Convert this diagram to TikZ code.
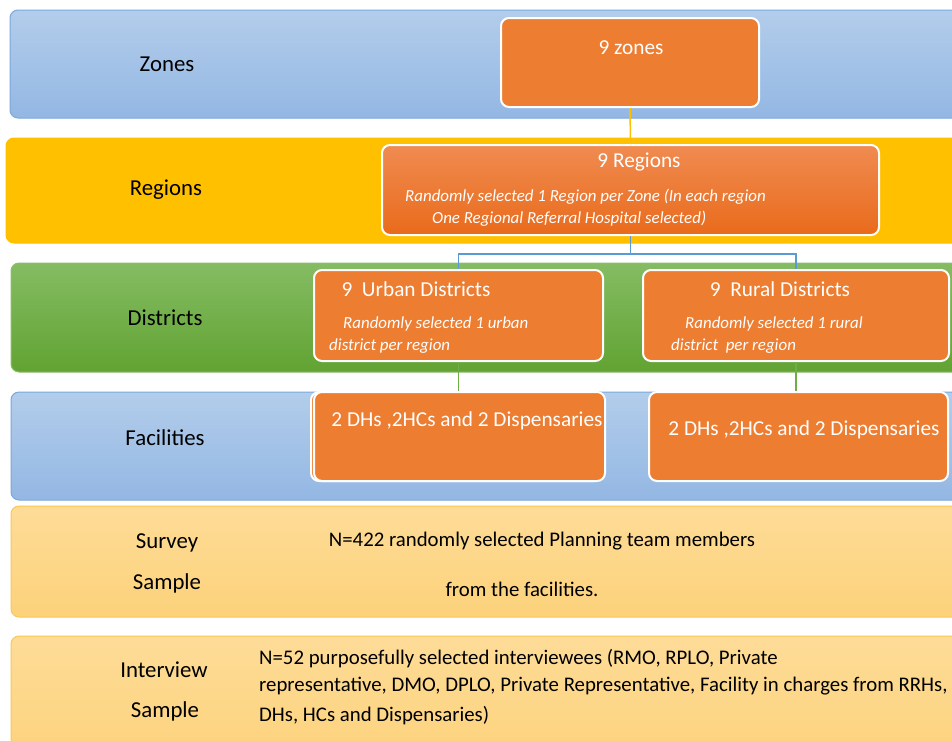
\documentclass[tikz,border=0pt]{standalone}
\usepackage{fontspec}
\setmainfont{Carlito}
\definecolor{blueT}{HTML}{B3CDEB}
\definecolor{blueBt}{HTML}{93B7E3}
\definecolor{blueLine}{HTML}{7BA7DC}
\definecolor{goldC}{HTML}{FFC000}
\definecolor{greenT}{HTML}{85BC63}
\definecolor{greenB}{HTML}{61A332}
\definecolor{greenLine}{HTML}{70AD47}
\definecolor{orangeC}{HTML}{ED7D31}
\definecolor{orangeT}{HTML}{F08B51}
\definecolor{orangeB}{HTML}{E96B1B}
\definecolor{survT}{HTML}{FEDC98}
\definecolor{survB}{HTML}{FCD27A}
\definecolor{survLine}{HTML}{FCC84F}
\definecolor{connBlue}{HTML}{5B9BD5}
\begin{document}
\begin{tikzpicture}[x=1pt,y=-1pt,
  band/.style={rounded corners=8pt, line width=1pt},
  obox/.style={draw=white, line width=2pt, fill=orangeC, rounded corners=8pt, inner sep=0pt},
  lab/.style={font=\fontsize{22.8}{26}\selectfont, text=black, inner sep=0pt},
  wt/.style={text=white, font=\fontsize{21.3}{25}\selectfont, inner sep=0pt},
  itl/.style={text=white, font=\fontsize{16.9}{20}\selectfont\itshape, anchor=west, inner sep=0pt},
  bt/.style={text=black, font=\fontsize{20.8}{24}\selectfont, inner sep=0pt},
  conn/.style={line width=1.5pt},
]
\clip (0,0) rectangle (952,740);
\fill[white] (0,0) rectangle (952,740);
% bands
\draw[band, draw=blueLine, top color=blueT, bottom color=blueBt] (10,10) rectangle (990,118);
\draw[band, draw=goldC, fill=goldC] (6,138) rectangle (990,243);
\draw[band, draw=greenLine!80, top color=greenT, bottom color=greenB] (11,263) rectangle (990,372);
\draw[band, draw=blueLine, top color=blueT, bottom color=blueBt] (11,392) rectangle (990,500);
\draw[band, draw=survLine, top color=survT, bottom color=survB] (11,506) rectangle (990,617);
\draw[band, draw=survLine, top color=survT, bottom color=survB] (11,636) rectangle (990,770);
% band labels
\node[lab] (lzones) at (167,64) {Zones};
\node[lab] (lregions) at (166,190) {Regions};
\node[lab] (ldistricts) at (165,318) {Districts};
\node[lab] (lfacilities) at (165,438) {Facilities};
\node[lab] (lsurvey) at (167,543) {Survey};
\node[lab] (lsample1) at (167,583) {Sample};
\node[lab] (linterview) at (164,670) {Interview};
\node[lab] (lsample2) at (165,711) {Sample};
% orange boxes
\node[obox, minimum width=258pt, minimum height=89pt] (zones) at (630,62.5) {};
\node[obox, fill=none, top color=orangeT, bottom color=orangeB, minimum width=497pt, minimum height=90pt] (regions) at (630.5,190) {};
\node[obox, minimum width=289pt, minimum height=91pt] (urban) at (458.5,315.5) {};
\node[obox, minimum width=306pt, minimum height=91pt] (rural) at (796,315.5) {};
\node[obox, minimum width=291pt, minimum height=89pt] (facUb) at (456.5,436.5) {};
\node[obox, minimum width=291pt, minimum height=89pt] (facU) at (459.5,436.5) {};
\node[obox, minimum width=299pt, minimum height=89pt] (facR) at (798.5,436.5) {};
% connectors
\draw[conn, draw=goldC] (zones.south) -- (regions.north);
\draw[conn, draw=connBlue] (regions.south) -- ++(0,18) -| (urban.north);
\draw[conn, draw=connBlue] (regions.south) -- ++(0,18) -| (rural.north);
\draw[conn, draw=greenLine] (urban.south) -- (urban.south |- facU.north);
\draw[conn, draw=greenLine] (rural.south) -- (rural.south |- facR.north);
% box texts
\node[wt] (tzones) at (631,48) {9 zones};
\node[wt] (tregions) at (639,162) {9 Regions};
\node[itl] (tregions1) at (405,197) {Randomly selected 1 Region per Zone (In each region};
\node[itl] (tregions2) at (432,219) {One Regional Referral Hospital selected)};
\node[wt] (turban) at (416,289) {9\ \ Urban Districts};
\node[itl] (turban1) at (343,324) {Randomly selected 1 urban};
\node[itl] (turban2) at (329,346) {district per region};
\node[wt] (trural) at (780,289) {9\ \ Rural Districts};
\node[itl] (trural1) at (685,324) {Randomly selected 1 rural};
\node[itl] (trural2) at (671,346) {district\ \ per region};
\node[wt] (tfacU) at (467,421) {2 DHs ,2HCs and 2 Dispensaries};
\node[wt] (tfacR) at (804,430) {2 DHs ,2HCs and 2 Dispensaries};
% bottom texts
\node[bt] (tsurvey1) at (542,541) {N=422 randomly selected Planning team members};
\node[bt] (tsurvey2) at (522,589) {from the facilities.};
\node[bt, anchor=west] (tint1) at (259,659) {N=52 purposefully selected interviewees (RMO, RPLO, Private};
\node[bt, anchor=west] (tint2) at (259,686) {representative, DMO, DPLO, Private Representative, Facility in charges from RRHs,};
\node[bt, anchor=west] (tint3) at (259,716) {DHs, HCs and Dispensaries)};
\end{tikzpicture}
\end{document}
